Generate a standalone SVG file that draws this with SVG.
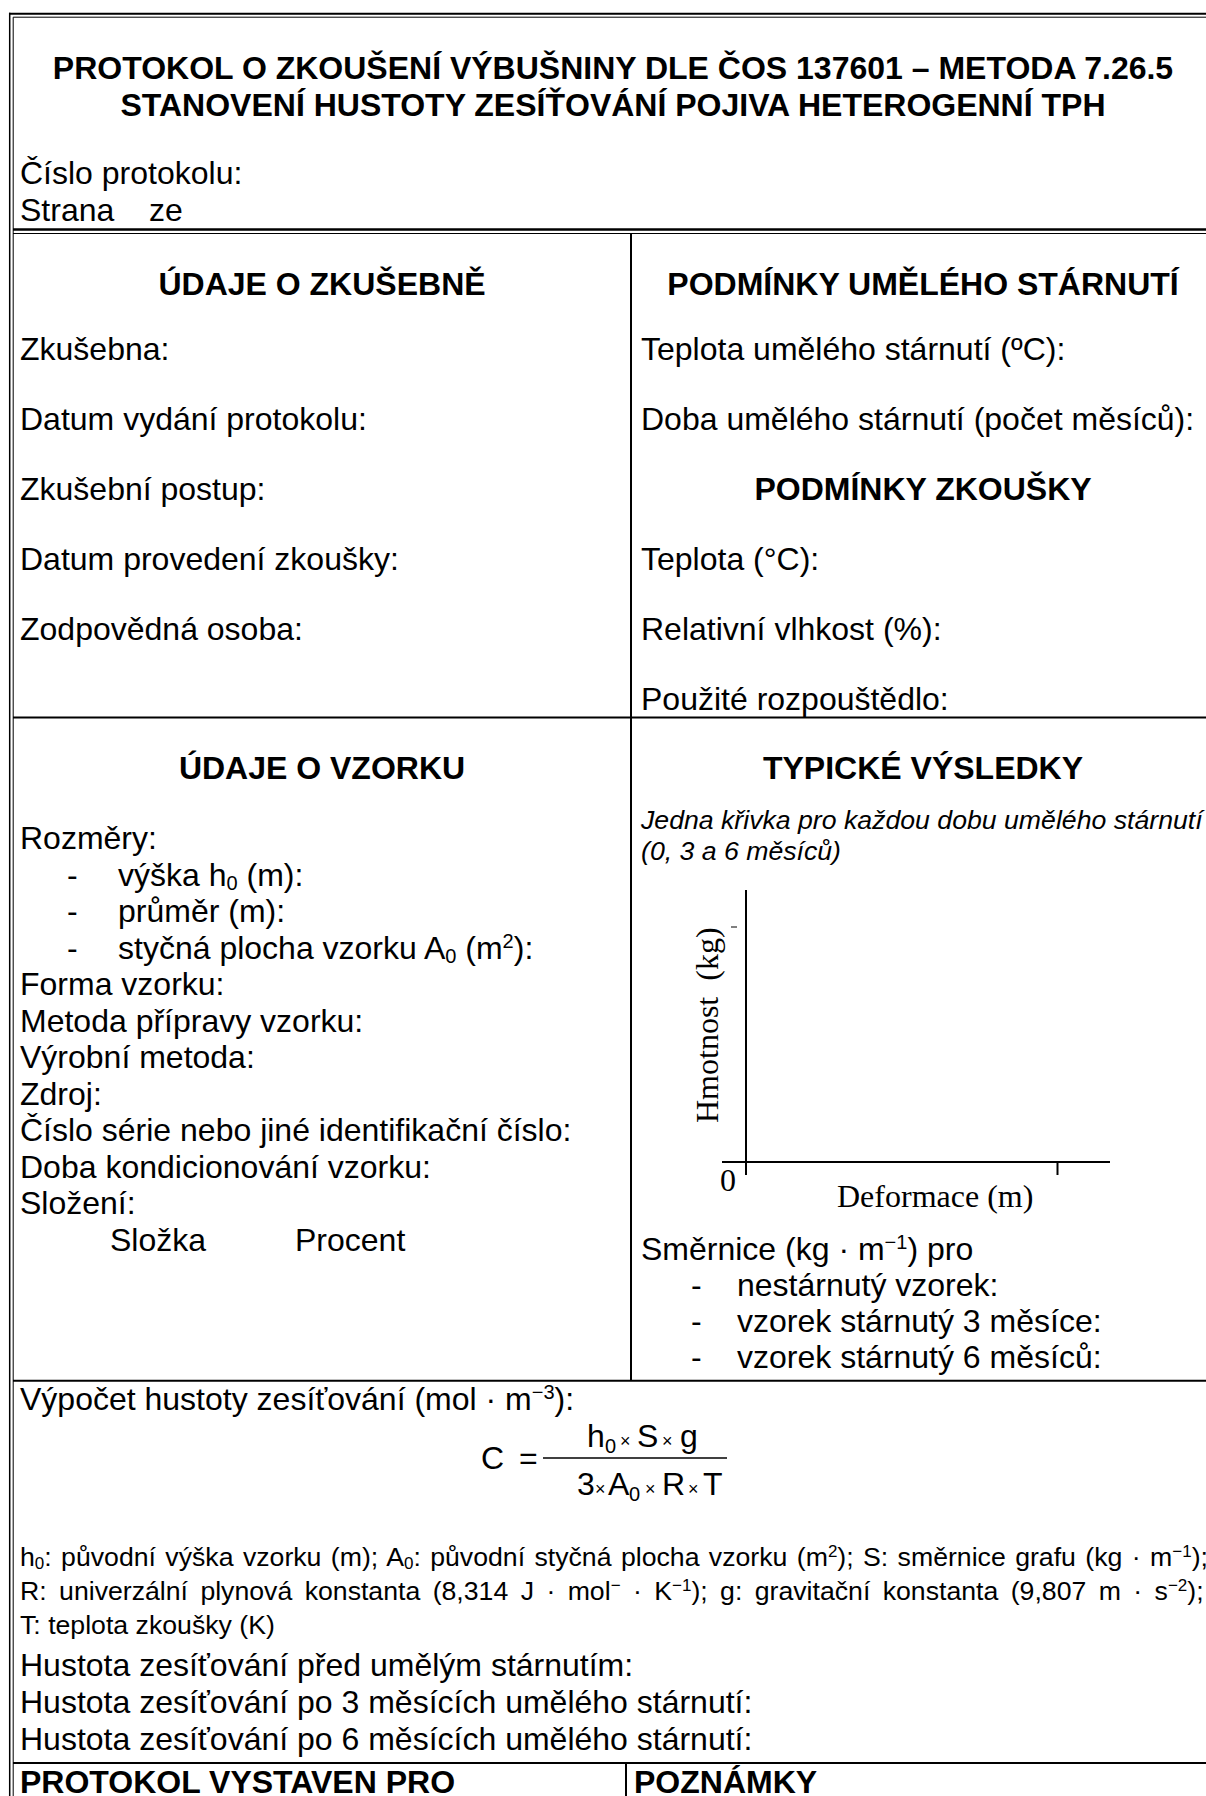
<svg xmlns="http://www.w3.org/2000/svg" width="1206" height="1796" viewBox="0 0 1206 1796">
<style>
text{font-family:"Liberation Sans",Arial,sans-serif;font-size:32px;fill:#000}
.b{font-weight:bold}
.c{text-anchor:middle}
.sm{font-size:26.67px}
.it{font-style:italic;font-size:26.67px}
.tm{font-family:"Liberation Serif","Times New Roman",serif}
.ln{stroke:#000;fill:none}
.sx{font-size:20px}
.sy{font-size:17px}
.mx{font-size:18px}
</style>
<rect width="1206" height="1796" fill="#fff"/>
<g id="frame" class="ln">
<line x1="9.7" y1="12.7" x2="9.7" y2="1796" stroke-width="1.5"/>
<line x1="9" y1="13.7" x2="1206" y2="13.7" stroke-width="2"/>
<line x1="13.2" y1="17.2" x2="1206" y2="17.2" stroke-width="1"/>
<line x1="13.2" y1="17.2" x2="13.2" y2="1796" stroke-width="1"/>
<line x1="13" y1="229.5" x2="1206" y2="229.5" stroke-width="2.5"/>
<line x1="13" y1="233.5" x2="1206" y2="233.5" stroke-width="1"/>
<line x1="631" y1="233.5" x2="631" y2="1381" stroke-width="2"/>
<line x1="13" y1="717.5" x2="1206" y2="717.5" stroke-width="2"/>
<line x1="13" y1="1380.7" x2="1206" y2="1380.7" stroke-width="2"/>
<line x1="13" y1="1763" x2="1206" y2="1763" stroke-width="2"/>
<line x1="626" y1="1763" x2="626" y2="1796" stroke-width="2"/>
</g>
<g id="header">
<text class="b c" x="613" y="79">PROTOKOL O ZKOUŠENÍ VÝBUŠNINY DLE ČOS 137601 – METODA 7.26.5</text>
<text class="b c" x="613" y="115.5">STANOVENÍ HUSTOTY ZESÍŤOVÁNÍ POJIVA HETEROGENNÍ TPH</text>
<text x="20" y="184">Číslo protokolu:</text>
<text x="20" y="221">Strana<tspan x="149">ze</tspan></text>
</g>
<g id="zkusebna">
<text class="b c" x="322" y="295">ÚDAJE O ZKUŠEBNĚ</text>
<text x="20" y="360">Zkušebna:</text>
<text x="20" y="430">Datum vydání protokolu:</text>
<text x="20" y="500">Zkušební postup:</text>
<text x="20" y="570">Datum provedení zkoušky:</text>
<text x="20" y="640">Zodpovědná osoba:</text>
</g>
<g id="podminky">
<text class="b c" x="923" y="295">PODMÍNKY UMĚLÉHO STÁRNUTÍ</text>
<text x="641" y="360">Teplota umělého stárnutí (ºC):</text>
<text x="641" y="430">Doba umělého stárnutí (počet měsíců):</text>
<text class="b c" x="923" y="500">PODMÍNKY ZKOUŠKY</text>
<text x="641" y="570">Teplota (°C):</text>
<text x="641" y="640">Relativní vlhkost (%):</text>
<text x="641" y="710">Použité rozpouštědlo:</text>
</g>
<g id="vzorek">
<text class="b c" x="322" y="779">ÚDAJE O VZORKU</text>
<text x="20" y="849">Rozměry:</text>
<text x="67" y="885.5">-</text><text x="118" y="885.5">výška h<tspan class="sx" baseline-shift="-4">0</tspan> (m):</text>
<text x="67" y="922">-</text><text x="118" y="922">průměr (m):</text>
<text x="67" y="958.5">-</text><text x="118" y="958.5">styčná plocha vzorku A<tspan class="sx" baseline-shift="-4">0</tspan> (m<tspan class="sx" baseline-shift="11">2</tspan>):</text>
<text x="20" y="995">Forma vzorku:</text>
<text x="20" y="1031.5">Metoda přípravy vzorku:</text>
<text x="20" y="1068">Výrobní metoda:</text>
<text x="20" y="1104.5">Zdroj:</text>
<text x="20" y="1141">Číslo série nebo jiné identifikační číslo:</text>
<text x="20" y="1177.5">Doba kondicionování vzorku:</text>
<text x="20" y="1214">Složení:</text>
<text x="110" y="1250.5">Složka</text><text x="295" y="1250.5">Procent</text>
</g>
<g id="vysledky">
<text class="b c" x="923" y="779">TYPICKÉ VÝSLEDKY</text>
<text class="it" x="641" y="829">Jedna křivka pro každou dobu umělého stárnutí</text>
<text class="it" x="641" y="860">(0, 3 a 6 měsíců)</text>
<g id="graph">
<line class="ln" x1="746" y1="890" x2="746" y2="1175" stroke-width="2"/>
<line class="ln" x1="722" y1="1162" x2="1110" y2="1162" stroke-width="2"/>
<line class="ln" x1="1057.5" y1="1162" x2="1057.5" y2="1175" stroke-width="2"/>
<line class="ln" x1="731" y1="927" x2="737" y2="927" stroke-width="1"/>
<text class="tm" x="720" y="1191">0</text>
<text class="tm" x="837" y="1207">Deformace (m)</text>
<text class="tm" transform="translate(718,1123) rotate(-90)">Hmotnost<tspan dx="8"> (kg)</tspan></text>
</g>
<text x="641" y="1260">Směrnice (kg · m<tspan class="sx" baseline-shift="11">−1</tspan>) pro</text>
<text x="691" y="1296">-</text><text x="737" y="1296">nestárnutý vzorek:</text>
<text x="691" y="1332">-</text><text x="737" y="1332">vzorek stárnutý 3 měsíce:</text>
<text x="691" y="1368">-</text><text x="737" y="1368">vzorek stárnutý 6 měsíců:</text>
</g>
<g id="vypocet">
<text x="20" y="1410">Výpočet hustoty zesíťování (mol · m<tspan class="sx" baseline-shift="11">−3</tspan>):</text>
<text x="481" y="1469">C<tspan x="519">=</tspan></text>
<line class="ln" x1="543" y1="1458" x2="727" y2="1458" stroke-width="1.5"/>
<text y="1447">
<tspan x="587">h</tspan><tspan class="sx" x="605" dy="6">0</tspan><tspan class="mx" x="620" dy="-6">×</tspan><tspan x="637">S</tspan><tspan class="mx" x="662">×</tspan><tspan x="680">g</tspan>
</text>
<text y="1495">
<tspan x="577">3</tspan><tspan class="mx" x="595">×</tspan><tspan x="608">A</tspan><tspan class="sx" x="629" dy="6">0</tspan><tspan class="mx" x="645" dy="-6">×</tspan><tspan x="662">R</tspan><tspan class="mx" x="688">×</tspan><tspan x="703">T</tspan>
</text>
<text class="sm" x="20" y="1566" word-spacing="2">h<tspan class="sy" baseline-shift="-3">0</tspan>: původní výška vzorku (m); A<tspan class="sy" baseline-shift="-3">0</tspan>: původní styčná plocha vzorku (m<tspan class="sy" baseline-shift="9">2</tspan>); S: směrnice grafu (kg · m<tspan class="sy" baseline-shift="9">−1</tspan>);</text>
<text class="sm" x="20" y="1600" word-spacing="5">R: univerzální plynová konstanta (8,314 J · mol<tspan class="sy" baseline-shift="9">−</tspan> · K<tspan class="sy" baseline-shift="9">−1</tspan>); g: gravitační konstanta (9,807 m · s<tspan class="sy" baseline-shift="9">−2</tspan>);</text>
<text class="sm" x="20" y="1634">T: teplota zkoušky (K)</text>
<text x="20" y="1676">Hustota zesíťování před umělým stárnutím:</text>
<text x="20" y="1713">Hustota zesíťování po 3 měsících umělého stárnutí:</text>
<text x="20" y="1750">Hustota zesíťování po 6 měsících umělého stárnutí:</text>
</g>
<g id="footer">
<text class="b" x="20" y="1793">PROTOKOL VYSTAVEN PRO</text>
<text class="b" x="634" y="1793">POZNÁMKY</text>
</g>
</svg>
